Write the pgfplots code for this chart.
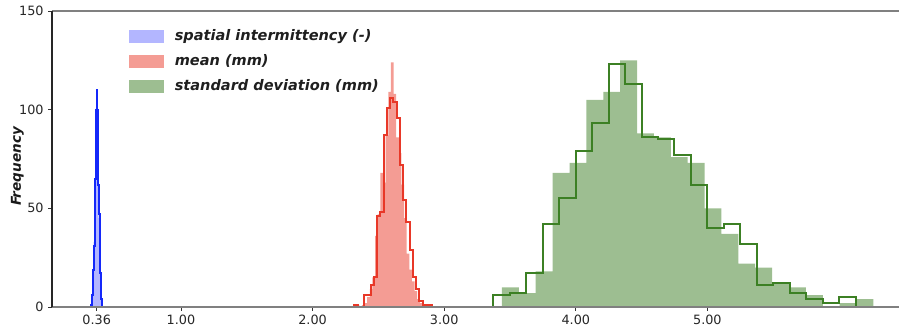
\documentclass[border=0pt]{standalone}
\usepackage{fontspec}
\setmainfont{DejaVu Sans}
\usepackage{pgfplots}
\pgfplotsset{compat=1.18}
\definecolor{bluefill}{RGB}{179,182,255}
\definecolor{blueline}{RGB}{20,40,250}
\definecolor{redfill}{RGB}{244,156,148}
\definecolor{redline}{RGB}{232,56,40}
\definecolor{greenfill}{RGB}{157,190,145}
\definecolor{greenline}{RGB}{60,128,36}
\definecolor{spine}{RGB}{128,128,128}
\begin{document}
\begin{tikzpicture}
\begin{axis}[
  at={(0,0)}, anchor=south west,
  width=635.25pt, height=222pt, scale only axis,
  xmin=0.02, xmax=6.456, ymin=0, ymax=150,
  clip=false,
  axis line style={draw=none},
  tick pos=left, tick align=outside,
  major tick length=2.8pt,
  every tick/.style={black!80, line width=0.6pt},
  xtick={0.36,1,2,3,4,5},
  xticklabels={0.36,1.00,2.00,3.00,4.00,5.00},
  ytick={0,50,100,150},
  /pgf/number format/assume math mode=true,
  tick label style={font=\fontsize{9.6}{11}\selectfont, text=black!85},
  ylabel={Frequency},
  ylabel style={font=\fontsize{10.2}{12}\selectfont\bfseries\itshape, at={(axis description cs:-0.041,0.475)}, anchor=center, text=black!90},
  legend style={draw=none, fill=none, at={(axis description cs:0.0909,0.939)}, anchor=north west,
    font=\fontsize{10.9}{12}\selectfont\bfseries\itshape, text=black!88, inner sep=0pt, row sep=9.1pt,
    nodes={inner sep=0pt}, /tikz/every odd column/.append style={column sep=8.25pt}},
  legend cell align=left,
]
% blue: spatial intermittency
\addplot[ybar interval, fill=bluefill, draw=none, forget plot] coordinates {
(0.316,1) (0.3202,4) (0.3244,7) (0.3286,12) (0.3328,20) (0.337,33) (0.3412,51) (0.3454,63) (0.3496,88) (0.3538,101) (0.358,108) (0.3622,98) (0.3664,84) (0.3706,60) (0.3748,45) (0.379,31) (0.3832,18) (0.3874,9) (0.3916,5) (0.3958,2) (0.40,0)};
\addplot[const plot mark left, blueline, line width=1.5pt, forget plot] coordinates {
(0.318,0) (0.318,1) (0.3222,3) (0.3264,6) (0.3306,11) (0.3348,19) (0.339,31) (0.3432,49) (0.3474,65) (0.3516,91) (0.3558,100) (0.36,110) (0.3642,100) (0.3684,80) (0.3726,62) (0.3768,47) (0.381,29) (0.3852,17) (0.3894,9) (0.3936,4) (0.3978,2) (0.402,0)};
% red: mean
\addplot[ybar interval, fill=redfill, draw=none, forget plot] coordinates {
(2.335,1) (2.355,0) (2.375,1) (2.395,2) (2.415,5) (2.435,9) (2.455,15) (2.475,36) (2.495,47) (2.515,68) (2.535,63) (2.555,87) (2.575,109) (2.595,124) (2.615,108) (2.635,86) (2.655,78) (2.675,62) (2.695,45) (2.715,27) (2.735,19) (2.755,13) (2.775,8) (2.795,4) (2.815,2) (2.835,1) (2.855,1) (2.875,0)};
\addplot[const plot mark left, redline, line width=1.5pt, forget plot] coordinates {
(2.3175,0) (2.3175,1) (2.3422,0) (2.3669,0) (2.3916,6) (2.4163,6) (2.441,11) (2.4657,15) (2.4904,46) (2.5151,48) (2.5398,87) (2.5645,101) (2.5892,106) (2.6139,104) (2.6386,96) (2.6633,72) (2.688,54) (2.7127,43) (2.7374,29) (2.7621,15) (2.7868,9) (2.8115,3) (2.8362,1) (2.8609,1) (2.8856,1) (2.9103,0)};
% green: standard deviation
\addplot[ybar interval, fill=greenfill, draw=none, forget plot] coordinates {
(3.439,10) (3.5673,7) (3.6956,18) (3.8239,68) (3.9522,73) (4.0805,105) (4.2088,109) (4.3371,125) (4.4654,88) (4.5937,86) (4.722,76) (4.8503,73) (4.9786,50) (5.1069,37) (5.2352,22) (5.3635,20) (5.4918,12) (5.6201,10) (5.7484,6) (5.8767,0) (6.005,2) (6.1333,4) (6.2616,0)};
\addplot[const plot mark left, greenline, line width=1.5pt, forget plot] coordinates {
(3.3735,0) (3.3735,6) (3.4986,7) (3.6237,17) (3.7488,42) (3.8739,55) (3.999,79) (4.1241,93) (4.2492,123) (4.3743,113) (4.4994,86) (4.6245,85) (4.7496,77) (4.8747,62) (4.9998,40) (5.1249,42) (5.25,32) (5.3751,11) (5.5002,12) (5.6253,7) (5.7504,4) (5.8755,2) (6.0006,5) (6.1257,0)};
% legend
\addlegendimage{legend image code/.code={\fill[bluefill] (0pt,-4.5pt) rectangle (25.5pt,4.5pt);}}
\addlegendentry{spatial intermittency (-)}
\addlegendimage{legend image code/.code={\fill[redfill] (0pt,-4.5pt) rectangle (25.5pt,4.5pt);}}
\addlegendentry{mean (mm)}
\addlegendimage{legend image code/.code={\fill[greenfill] (0pt,-4.5pt) rectangle (25.5pt,4.5pt);}}
\addlegendentry{standard deviation (mm)}
% spines
\draw[spine, line width=0.9pt] (rel axis cs:0,0) -- (rel axis cs:1,0);
\draw[spine, line width=0.9pt] (rel axis cs:0,1) -- (rel axis cs:1,1);
\draw[black!85, line width=0.8pt] (rel axis cs:0,0) -- (rel axis cs:0,1);
\end{axis}
\pgfresetboundingbox
\path[use as bounding box] (-39pt,-16.5pt) rectangle (635.25pt,230.25pt);
\end{tikzpicture}
\end{document}
